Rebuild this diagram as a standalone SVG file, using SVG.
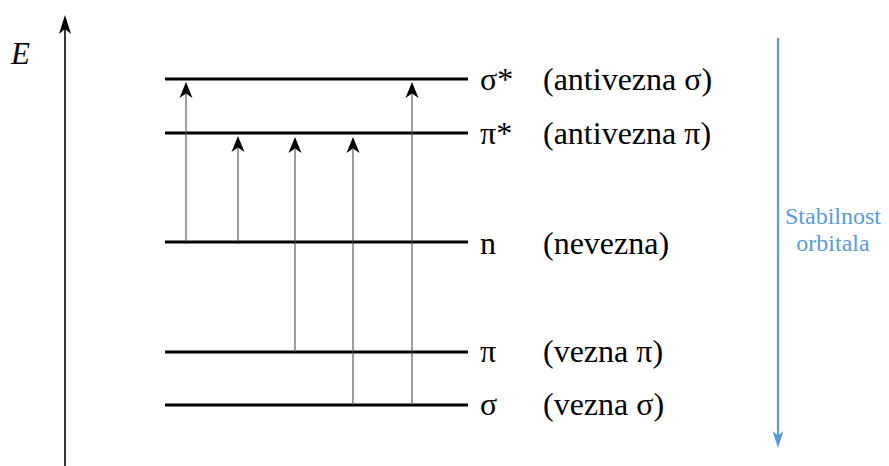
<svg xmlns="http://www.w3.org/2000/svg" width="889" height="466" viewBox="0 0 889 466">
<style>
.lvl{stroke:#000;stroke-width:2.8;fill:none}
.tr{stroke:#4d4d4d;stroke-width:1.1;fill:none}
.lab{font-size:32px;fill:#000}
.blue{font-size:24px;fill:#5B9BD5;text-anchor:middle}
</style>
<defs>
<path id="head" d="M0,0 L6.5,16 L0,11.5 L-6.5,16 Z" fill="#000"/>
</defs>
<rect width="889" height="466" fill="#fff"/>
<g id="axis">
<line x1="65" y1="466" x2="65" y2="28" stroke="#000" stroke-width="1.6"/>
<path d="M65,15 L71,34 L65,29 L59,34 Z" fill="#000"/>
<text x="11" y="64" font-family="Liberation Serif, Times New Roman, serif" font-size="31" font-style="italic">E</text>
</g>
<g font-family="Liberation Serif, Times New Roman, serif">
<g id="level-sigma-star">
<line class="lvl" x1="165" y1="79" x2="468" y2="79"/>
<text class="lab" x="480" y="90">σ*</text>
<text class="lab" x="543" y="90">(antivezna σ)</text>
</g>
<g id="level-pi-star">
<line class="lvl" x1="165" y1="133" x2="468" y2="133"/>
<text class="lab" x="480" y="144">π*</text>
<text class="lab" x="543" y="144">(antivezna π)</text>
</g>
<g id="level-n">
<line class="lvl" x1="165" y1="242" x2="468" y2="242"/>
<text class="lab" x="480" y="254">n</text>
<text class="lab" x="543" y="254">(nevezna)</text>
</g>
<g id="level-pi">
<line class="lvl" x1="165" y1="352" x2="468" y2="352"/>
<text class="lab" x="480" y="362">π</text>
<text class="lab" x="543" y="362">(vezna π)</text>
</g>
<g id="level-sigma">
<line class="lvl" x1="165" y1="405" x2="468" y2="405"/>
<text class="lab" x="480" y="415">σ</text>
<text class="lab" x="543" y="415">(vezna σ)</text>
</g>
</g>
<g id="connectors">
<line class="tr" x1="186" y1="242" x2="186" y2="94"/>
<use href="#head" x="186" y="82"/>
<line class="tr" x1="238" y1="242" x2="238" y2="148"/>
<use href="#head" x="238" y="136"/>
<line class="tr" x1="295" y1="352" x2="295" y2="149"/>
<use href="#head" x="295" y="137"/>
<line class="tr" x1="353" y1="405" x2="353" y2="149"/>
<use href="#head" x="353" y="137"/>
<line class="tr" x1="412" y1="405" x2="412" y2="94"/>
<use href="#head" x="412" y="82"/>
</g>
<g id="stability" font-family="Liberation Serif, Times New Roman, serif">
<line x1="778" y1="38" x2="778" y2="440" stroke="#5B9BD5" stroke-width="2.2"/>
<path d="M778,448 L783.5,431 L778,435.5 L772.5,431 Z" fill="#5B9BD5"/>
<text class="blue" x="833" y="224">Stabilnost</text>
<text class="blue" x="833" y="251">orbitala</text>
</g>
</svg>
